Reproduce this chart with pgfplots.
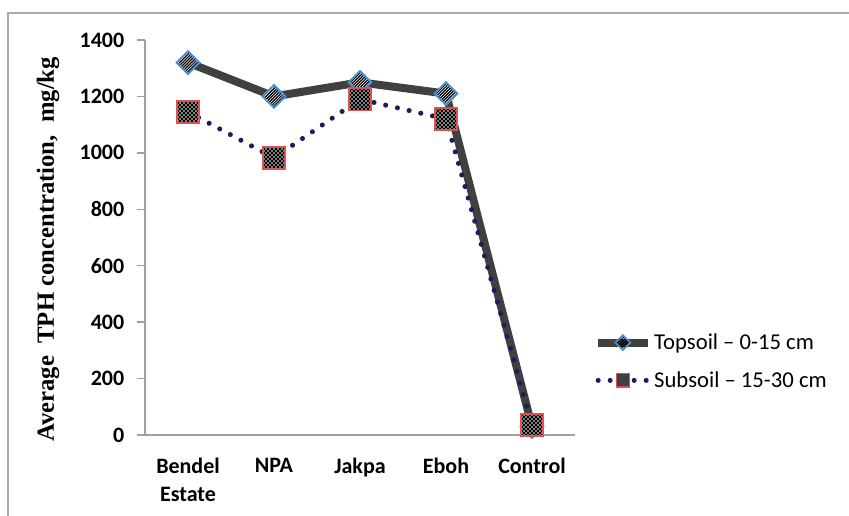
\documentclass[border=0pt]{standalone}
\usepackage{pgfplots}
\pgfplotsset{compat=1.18}
\usepackage{fontspec}
\setmainfont{Liberation Serif}
\newfontfamily\carlito{Carlito}
\usetikzlibrary{patterns}

\definecolor{topgray}{HTML}{404040}
\definecolor{subnavy}{HTML}{1C1C5C}
\definecolor{diaedge}{HTML}{4F8FD0}
\definecolor{sqedge}{HTML}{E05050}
\definecolor{axgray}{HTML}{A0A0A0}

% dense stripes for the diamonds, white dots for the squares
\pgfdeclarepatternformonly{stripes}{\pgfqpoint{-1pt}{-1pt}}{\pgfqpoint{3pt}{3pt}}{\pgfqpoint{2.2pt}{2.2pt}}{
    \pgfsetlinewidth{0.9pt}
    \pgfpathmoveto{\pgfqpoint{0pt}{0pt}}
    \pgfpathlineto{\pgfqpoint{2.2pt}{2.2pt}}
    \pgfusepath{stroke}
}
\pgfdeclarepatternformonly{whitedots}{\pgfqpoint{-1pt}{-1pt}}{\pgfqpoint{4pt}{4pt}}{\pgfqpoint{3pt}{3pt}}{
    \pgfpathcircle{\pgfqpoint{0pt}{0pt}}{0.65pt}
    \pgfpathcircle{\pgfqpoint{1.5pt}{1.5pt}}{0.65pt}
    \pgfusepath{fill}
}

\pgfplotstableread{
x  top   sub
0  1320  1145
1  1200   982
2  1250  1190
3  1210  1120
4    30    35
}\tph

\begin{document}
\begin{tikzpicture}
\useasboundingbox (-108.75pt,-60pt) rectangle (528pt,326.25pt);
\draw[axgray!90, line width=0.8pt] (-102.75pt,-62pt) -- (-102.75pt,316.5pt) -- (530pt,316.5pt);
\begin{axis}[
    at={(0pt,0pt)}, anchor=south west,
    scale only axis,
    width=322.5pt, height=296.25pt,
    xmin=-0.5, xmax=4.5,
    ymin=0, ymax=1400,
    clip=false,
    axis lines=left,
    axis line style={axgray, line width=1pt, -},
    tick align=outside,
    major tick length=6pt,
    minor tick length=6pt,
    tick style={axgray, line width=1pt},
    xtick={0,...,4},
    xticklabels={{Bendel\\Estate},NPA,Jakpa,Eboh,Control},
    xtick style={draw=none},
    minor xtick={-0.5,0.5,1.5,2.5,3.5,4.5},
    ytick={0,200,...,1400},
    /pgf/number format/assume math mode=true,
    /pgf/number format/1000 sep={},
    ticklabel style={font=\carlito\bfseries\fontsize{16.5}{20.5}\selectfont, text=black},
    xticklabel style={align=center, yshift=-8pt},
    yticklabel style={xshift=-6pt},
    ylabel={Average\ \ TPH concentration,\ \ mg/kg},
    ylabel style={font=\bfseries\fontsize{18.5}{22}\selectfont, at={(axis description cs:-0.2256,0.47)}, anchor=center},
    legend style={at={(axis description cs:1.044,0.186)}, anchor=west, draw=none, fill=none,
        inner sep=0pt, row sep=11pt, font=\carlito\fontsize{17}{20}\selectfont,
        nodes={inner sep=2pt}},
    legend cell align=left,
    legend image code/.code={
        \draw[mark repeat=2,mark phase=2,#1] plot coordinates {(0cm,0cm) (0.65cm,0cm) (1.3cm,0cm)};
    },
]
% topsoil
\addplot[topgray, line width=6pt, forget plot] table[x=x,y=top] {\tph};
\addplot[only marks, mark=square*, mark size=6pt, mark options={rotate=45, fill=white, draw=white}, forget plot] table[x=x,y=top] {\tph};
\addplot[only marks, mark=square*, mark size=6pt, mark options={rotate=45, draw=diaedge, line width=1.5pt, pattern=stripes}, forget plot] table[x=x,y=top] {\tph};
% subsoil
\addplot[subnavy, line width=3.8pt, line cap=round, dash pattern=on 0pt off 9pt, forget plot] table[x=x,y=sub] {\tph};
\addplot[only marks, mark=square*, mark size=8.3pt, mark options={fill=black, draw=black}, forget plot] table[x=x,y=sub] {\tph};
\addplot[only marks, mark=square*, mark size=8.3pt, mark options={draw=sqedge, line width=1.2pt, pattern=whitedots, pattern color=white}, forget plot] table[x=x,y=sub] {\tph};

\addlegendimage{topgray, line width=6pt, mark=square*, mark size=4pt, mark options={rotate=45, draw=diaedge, line width=1.2pt, pattern=stripes, solid}}
\addlegendentry{Topsoil – 0-15 cm}
\addlegendimage{subnavy, line width=3.8pt, line cap=round, dash pattern=on 0pt off 9pt, mark=square*, mark size=5pt, mark options={draw=sqedge, line width=1pt, fill=black!75, solid}}
\addlegendentry{Subsoil – 15-30 cm}
\end{axis}
\end{tikzpicture}
\end{document}
